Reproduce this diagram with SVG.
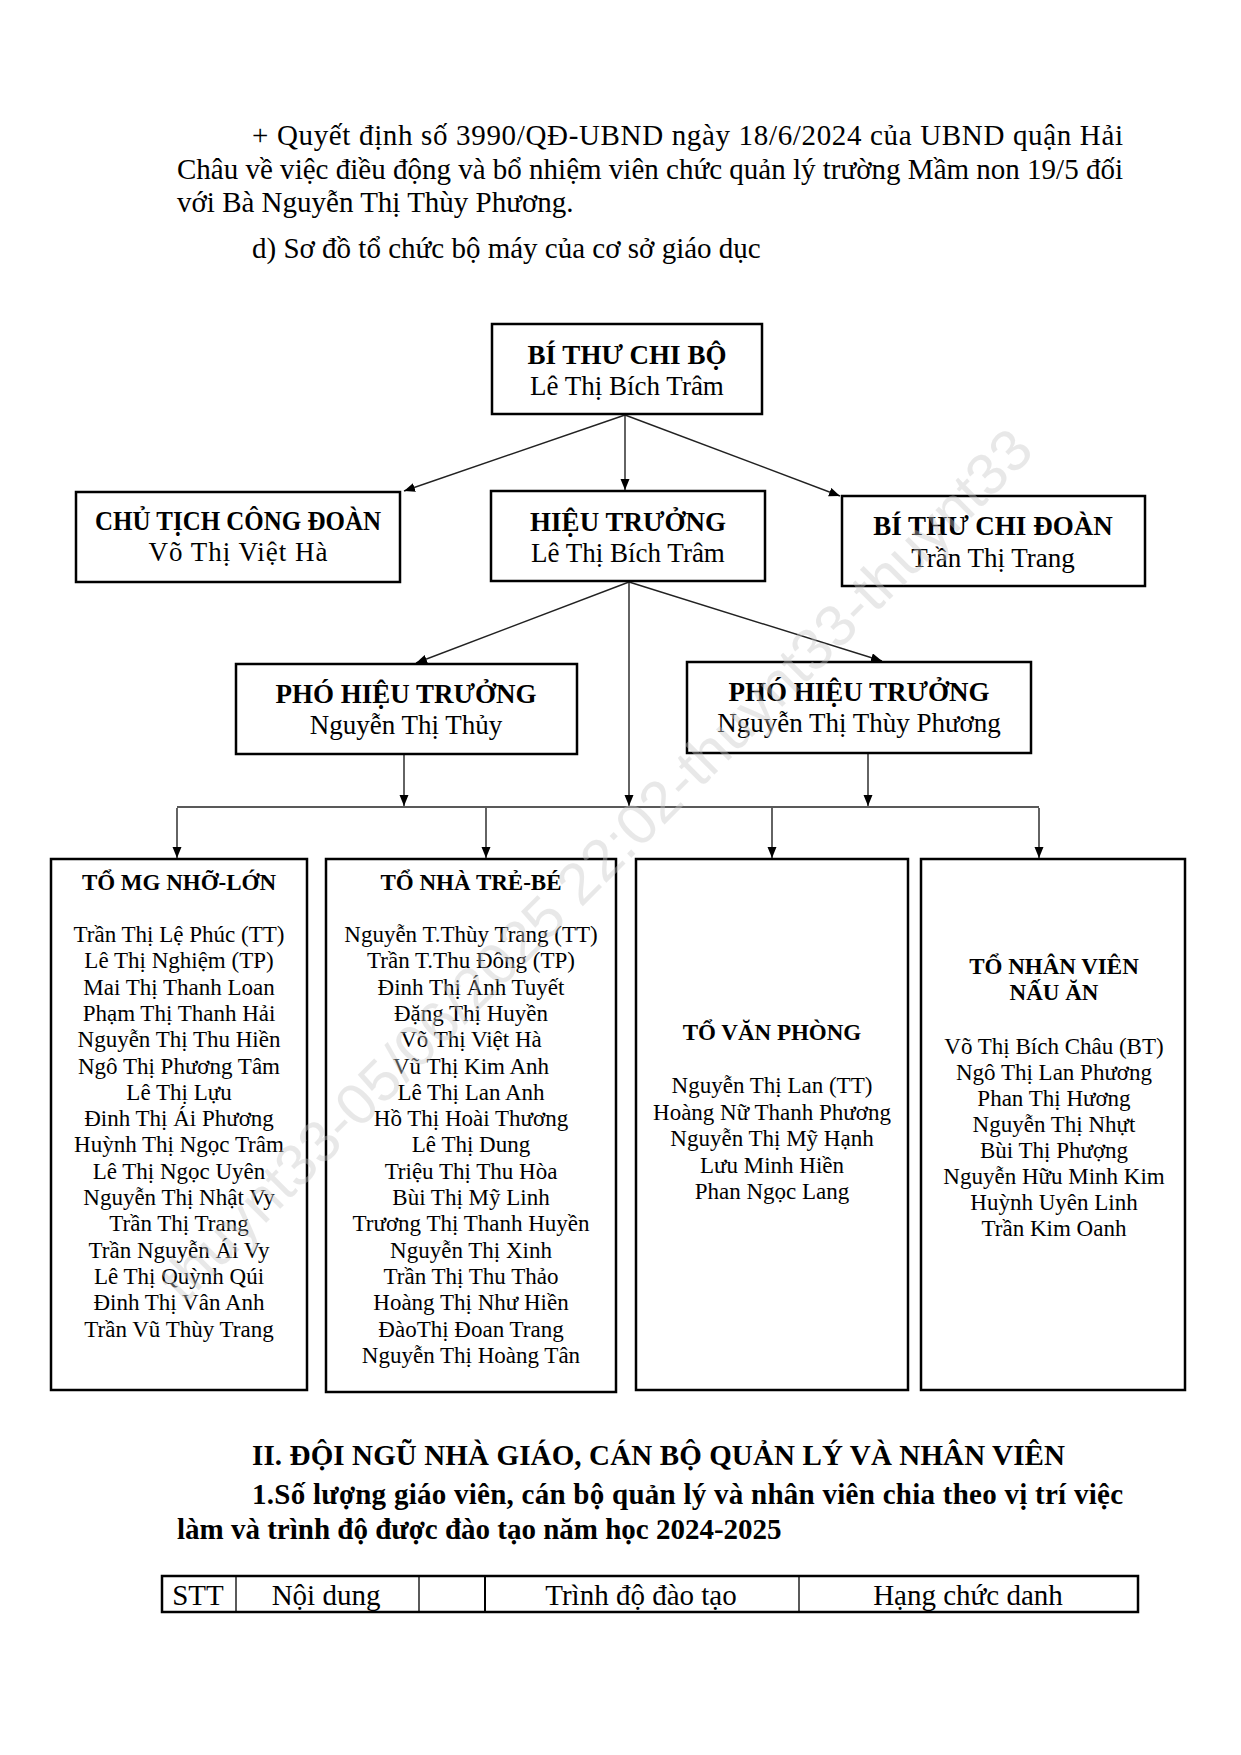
<svg xmlns="http://www.w3.org/2000/svg" width="1241" height="1755" viewBox="0 0 1241 1755">
<style>
.t{font-family:"Liberation Serif","Times New Roman",serif;fill:#000}
.b{font-weight:bold}
.p{font-size:29px}
.bx{font-size:27px;text-anchor:middle}
.nm{font-size:23px;text-anchor:middle}
.box{fill:#fff;stroke:#000;stroke-width:2.5}
.ln{stroke:#222;stroke-width:1.4;fill:none}
.tb{stroke:#000;fill:none}
.wm{font-family:"Liberation Sans",Arial,sans-serif;font-size:58px;fill:#c8c8c8;opacity:0.4}
</style>
<defs>
<marker id="ah" markerUnits="userSpaceOnUse" markerWidth="12" markerHeight="10" refX="11" refY="4.5" orient="auto">
<path d="M0,0 L11,4.5 L0,9 z" fill="#000"/>
</marker>
</defs>
<rect width="1241" height="1755" fill="#fff"/>

<g id="intro">
<text class="t p" x="252" y="145" textLength="871" lengthAdjust="spacing">+ Quyết định số 3990/QĐ-UBND ngày 18/6/2024 của UBND quận Hải</text>
<text class="t p" x="177" y="179" textLength="946" lengthAdjust="spacing">Châu về việc điều động và bổ nhiệm viên chức quản lý trường Mầm non 19/5 đối</text>
<text class="t p" x="177" y="212">với Bà Nguyễn Thị Thùy Phương.</text>
<text class="t p" x="252" y="258">d) Sơ đồ tổ chức bộ máy của cơ sở giáo dục</text>
</g>

<g id="connectors">
<line class="ln" x1="625" y1="415" x2="404" y2="491" marker-end="url(#ah)"/>
<line class="ln" x1="625" y1="415" x2="625" y2="490" marker-end="url(#ah)"/>
<line class="ln" x1="625" y1="415" x2="840" y2="496" marker-end="url(#ah)"/>
<line class="ln" x1="629" y1="582" x2="416" y2="663" marker-end="url(#ah)"/>
<line class="ln" x1="629" y1="582" x2="882" y2="661" marker-end="url(#ah)"/>
<line class="ln" x1="629" y1="582" x2="629" y2="806" marker-end="url(#ah)"/>
<line class="ln" x1="404" y1="755" x2="404" y2="806" marker-end="url(#ah)"/>
<line class="ln" x1="868" y1="754" x2="868" y2="806" marker-end="url(#ah)"/>
<line class="ln" x1="177" y1="807" x2="1039" y2="807"/>
<line class="ln" x1="177" y1="808" x2="177" y2="858" marker-end="url(#ah)"/>
<line class="ln" x1="486" y1="808" x2="486" y2="858" marker-end="url(#ah)"/>
<line class="ln" x1="772" y1="808" x2="772" y2="858" marker-end="url(#ah)"/>
<line class="ln" x1="1039" y1="808" x2="1039" y2="858" marker-end="url(#ah)"/>
</g>

<g id="bi-thu-chi-bo">
<rect class="box" x="492" y="324" width="270" height="90"/>
<text class="t bx b" x="627" y="364">BÍ THƯ CHI BỘ</text>
<text class="t bx" x="627" y="395">Lê Thị Bích Trâm</text>
</g>

<g id="chu-tich-cong-doan">
<rect class="box" x="76" y="492" width="324" height="90"/>
<text class="t bx b" x="238" y="530" textLength="286" lengthAdjust="spacingAndGlyphs">CHỦ TỊCH CÔNG ĐOÀN</text>
<text class="t bx" x="238" y="561" textLength="179" lengthAdjust="spacing">Võ Thị Việt Hà</text>
</g>

<g id="hieu-truong">
<rect class="box" x="491" y="491" width="274" height="90"/>
<text class="t bx b" x="628" y="531">HIỆU TRƯỞNG</text>
<text class="t bx" x="628" y="562">Lê Thị Bích Trâm</text>
</g>

<g id="bi-thu-chi-doan">
<rect class="box" x="842" y="496" width="303" height="90"/>
<text class="t bx b" x="993" y="535">BÍ THƯ CHI ĐOÀN</text>
<text class="t bx" x="993" y="567">Trần Thị Trang</text>
</g>

<g id="pho-hieu-truong-1">
<rect class="box" x="236" y="664" width="341" height="90"/>
<text class="t bx b" x="406" y="703">PHÓ HIỆU TRƯỞNG</text>
<text class="t bx" x="406" y="734">Nguyễn Thị Thủy</text>
</g>

<g id="pho-hieu-truong-2">
<rect class="box" x="687" y="662" width="344" height="91"/>
<text class="t bx b" x="859" y="701">PHÓ HIỆU TRƯỞNG</text>
<text class="t bx" x="859" y="732">Nguyễn Thị Thùy Phương</text>
</g>

<g id="to-mg-nho-lon">
<rect class="box" x="51" y="859" width="256" height="531"/>
<text class="t nm b" x="179" y="890">TỔ MG NHỠ-LỚN</text>
<text class="t nm" x="179" y="942">Trần Thị Lệ Phúc (TT)</text>
<text class="t nm" x="179" y="968.3">Lê Thị Nghiệm (TP)</text>
<text class="t nm" x="179" y="994.6">Mai Thị Thanh Loan</text>
<text class="t nm" x="179" y="1020.9">Phạm Thị Thanh Hải</text>
<text class="t nm" x="179" y="1047.2">Nguyễn Thị Thu Hiền</text>
<text class="t nm" x="179" y="1073.5">Ngô Thị Phương Tâm</text>
<text class="t nm" x="179" y="1099.8">Lê Thị Lựu</text>
<text class="t nm" x="179" y="1126.1">Đinh Thị Ái Phương</text>
<text class="t nm" x="179" y="1152.4">Huỳnh Thị Ngọc Trâm</text>
<text class="t nm" x="179" y="1178.7">Lê Thị Ngọc Uyên</text>
<text class="t nm" x="179" y="1205">Nguyễn Thị Nhật Vy</text>
<text class="t nm" x="179" y="1231.3">Trần Thị Trang</text>
<text class="t nm" x="179" y="1257.6">Trần Nguyễn Ái Vy</text>
<text class="t nm" x="179" y="1283.9">Lê Thị Quỳnh Qúi</text>
<text class="t nm" x="179" y="1310.2">Đinh Thị Vân Anh</text>
<text class="t nm" x="179" y="1336.5">Trần Vũ Thùy Trang</text>
</g>

<g id="to-nha-tre-be">
<rect class="box" x="326" y="859" width="290" height="533"/>
<text class="t nm b" x="471" y="890">TỔ NHÀ TRẺ-BÉ</text>
<text class="t nm" x="471" y="942">Nguyễn T.Thùy Trang (TT)</text>
<text class="t nm" x="471" y="968.3">Trần T.Thu Đông (TP)</text>
<text class="t nm" x="471" y="994.6">Đinh Thị Ánh Tuyết</text>
<text class="t nm" x="471" y="1020.9">Đặng Thị Huyền</text>
<text class="t nm" x="471" y="1047.2">Võ Thị Việt Hà</text>
<text class="t nm" x="471" y="1073.5">Vũ Thị Kim Anh</text>
<text class="t nm" x="471" y="1099.8">Lê Thị Lan Anh</text>
<text class="t nm" x="471" y="1126.1">Hồ Thị Hoài Thương</text>
<text class="t nm" x="471" y="1152.4">Lê Thị Dung</text>
<text class="t nm" x="471" y="1178.7">Triệu Thị Thu Hòa</text>
<text class="t nm" x="471" y="1205">Bùi Thị Mỹ Linh</text>
<text class="t nm" x="471" y="1231.3">Trương Thị Thanh Huyền</text>
<text class="t nm" x="471" y="1257.6">Nguyễn Thị Xinh</text>
<text class="t nm" x="471" y="1283.9">Trần Thị Thu Thảo</text>
<text class="t nm" x="471" y="1310.2">Hoàng Thị Như Hiền</text>
<text class="t nm" x="471" y="1336.5">ĐàoThị Đoan Trang</text>
<text class="t nm" x="471" y="1362.8">Nguyễn Thị Hoàng Tân</text>
</g>

<g id="to-van-phong">
<rect class="box" x="636" y="859" width="272" height="531"/>
<text class="t nm b" x="772" y="1040">TỔ VĂN PHÒNG</text>
<text class="t nm" x="772" y="1093">Nguyễn Thị Lan (TT)</text>
<text class="t nm" x="772" y="1119.5">Hoàng Nữ Thanh Phương</text>
<text class="t nm" x="772" y="1146">Nguyễn Thị Mỹ Hạnh</text>
<text class="t nm" x="772" y="1172.5">Lưu Minh Hiền</text>
<text class="t nm" x="772" y="1199">Phan Ngọc Lang</text>
</g>

<g id="to-nhan-vien-nau-an">
<rect class="box" x="921" y="859" width="264" height="531"/>
<text class="t nm b" x="1054" y="974">TỔ NHÂN VIÊN</text>
<text class="t nm b" x="1054" y="1000">NẤU ĂN</text>
<text class="t nm" x="1054" y="1054">Võ Thị Bích Châu (BT)</text>
<text class="t nm" x="1054" y="1080">Ngô Thị Lan Phương</text>
<text class="t nm" x="1054" y="1106">Phan Thị Hương</text>
<text class="t nm" x="1054" y="1132">Nguyễn Thị Nhựt</text>
<text class="t nm" x="1054" y="1158">Bùi Thị Phượng</text>
<text class="t nm" x="1054" y="1184">Nguyễn Hữu Minh Kim</text>
<text class="t nm" x="1054" y="1210">Huỳnh Uyên Linh</text>
<text class="t nm" x="1054" y="1236">Trần Kim Oanh</text>
</g>

<g id="section-2">
<text class="t p b" x="252" y="1465" textLength="813" lengthAdjust="spacing">II. ĐỘI NGŨ NHÀ GIÁO, CÁN BỘ QUẢN LÝ VÀ NHÂN VIÊN</text>
<text class="t p b" x="252" y="1504" textLength="871" lengthAdjust="spacing">1.Số lượng giáo viên, cán bộ quản lý và nhân viên chia theo vị trí việc</text>
<text class="t p b" x="177" y="1539">làm và trình độ được đào tạo năm học 2024-2025</text>
</g>

<g id="table">
<rect class="tb" x="162" y="1576" width="976" height="36" stroke-width="2.5"/>
<line class="tb" x1="236" y1="1576" x2="236" y2="1612" stroke-width="1.3"/>
<line class="tb" x1="419" y1="1576" x2="419" y2="1612" stroke-width="1.3"/>
<line class="tb" x1="485" y1="1576" x2="485" y2="1612" stroke-width="2"/>
<line class="tb" x1="799" y1="1576" x2="799" y2="1612" stroke-width="1.3"/>
<text class="t p" x="198" y="1605" text-anchor="middle">STT</text>
<text class="t p" x="326" y="1605" text-anchor="middle">Nội dung</text>
<text class="t p" x="641" y="1605" text-anchor="middle">Trình độ đào tạo</text>
<text class="t p" x="968" y="1605" text-anchor="middle">Hạng chức danh</text>
</g>

<g id="watermark">
<text class="wm" x="184" y="1305" transform="rotate(-45 184 1305)" textLength="1205" lengthAdjust="spacingAndGlyphs">thuynt33-05/06/2025 22:02-thuynt33-thuynt33</text>
</g>
</svg>
